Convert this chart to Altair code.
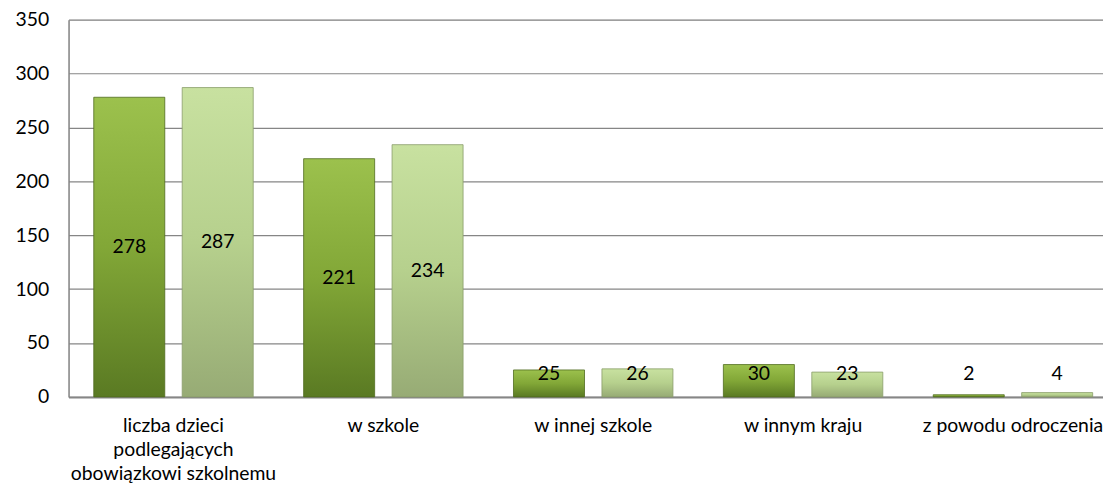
import altair as alt
import pandas as pd

categories = ["liczba dzieci podlegających obowiązkowi szkolnemu", "w szkole",
              "w innej szkole", "w innym kraju", "z powodu odroczenia"]
label_lines = [["liczba dzieci", "podlegających", "obowiązkowi szkolnemu"],
               ["w szkole"], ["w innej szkole"], ["w innym kraju"], ["z powodu odroczenia"]]
series = ["A", "B"]
values_a = [278, 221, 25, 30, 2]
values_b = [287, 234, 26, 23, 4]
y_ticks = [0, 50, 100, 150, 200, 250, 300, 350]

rows = []
for c, a, b in zip(categories, values_a, values_b):
    rows.append({"cat": c, "s": "A", "v": a})
    rows.append({"cat": c, "s": "B", "v": b})
df = pd.DataFrame(rows)

label_expr = " : ".join(
    [f"datum.value == '{c}' ? {l!r}" for c, l in zip(categories, label_lines)] + ["datum.value"]
)

FONT = "Lato"
FS = 19.5

x = alt.X("cat:N", sort=categories, title=None,
          scale=alt.Scale(paddingInner=0, paddingOuter=0, range=[0, 1057]),
          axis=alt.Axis(labelAngle=0, labelExpr=label_expr, labelFont=FONT, labelFontSize=FS,
                        labelColor="#000", labelPadding=20, labelLineHeight=24, ticks=False,
                        labelLimit=0, domainColor="#868686", domainWidth=2, labelBaseline="top"))
xo = alt.XOffset("s:N", sort=series, scale=alt.Scale(paddingInner=0.197, paddingOuter=0.285))
y = alt.Y("v:Q", title=None,
          scale=alt.Scale(domain=[0, 350], nice=False),
          axis=alt.Axis(values=y_ticks, labelFont=FONT, labelFontSize=FS, labelColor="#000",
                        ticks=False, labelPadding=20, gridColor="#868686", gridWidth=1.2,
                        domainColor="#868686", domainWidth=1.5))

grad_a = alt.LinearGradient(gradient="linear", x1=0, x2=0, y1=0, y2=1, stops=[
    alt.GradientStop(color="#9cc14d", offset=0), alt.GradientStop(color="#82a737", offset=0.5),
    alt.GradientStop(color="#5a7a23", offset=1)])
grad_b = alt.LinearGradient(gradient="linear", x1=0, x2=0, y1=0, y2=1, stops=[
    alt.GradientStop(color="#c8e1a0", offset=0), alt.GradientStop(color="#b6d08d", offset=0.5),
    alt.GradientStop(color="#97ab75", offset=1)])

base = alt.Chart(df)
bar_a = base.transform_filter("datum.s == 'A'").mark_bar(
    color=grad_a, stroke="#4f6b1e", strokeWidth=0.8).encode(x=x, xOffset=xo, y=y)
bar_b = base.transform_filter("datum.s == 'B'").mark_bar(
    color=grad_b, stroke="#8a9c6a", strokeWidth=0.8).encode(x=x, xOffset=xo, y=y)
text = base.transform_calculate(lp="max(datum.v / 2, 21)").mark_text(
    font=FONT, fontSize=FS, color="#000", baseline="middle").encode(
    x=x, xOffset=xo, y=alt.Y("lp:Q"), text="v:Q")

chart = alt.layer(bar_a, bar_b, text).properties(
    width=1042, height=380,
    autosize=alt.AutoSizeParams(type="none"),
    padding={"left": 61, "top": 10, "right": 0, "bottom": 85}
).configure_view(stroke=None).configure(background="white")

chart.save("out.html", embed_options={"renderer": "svg", "actions": False})
